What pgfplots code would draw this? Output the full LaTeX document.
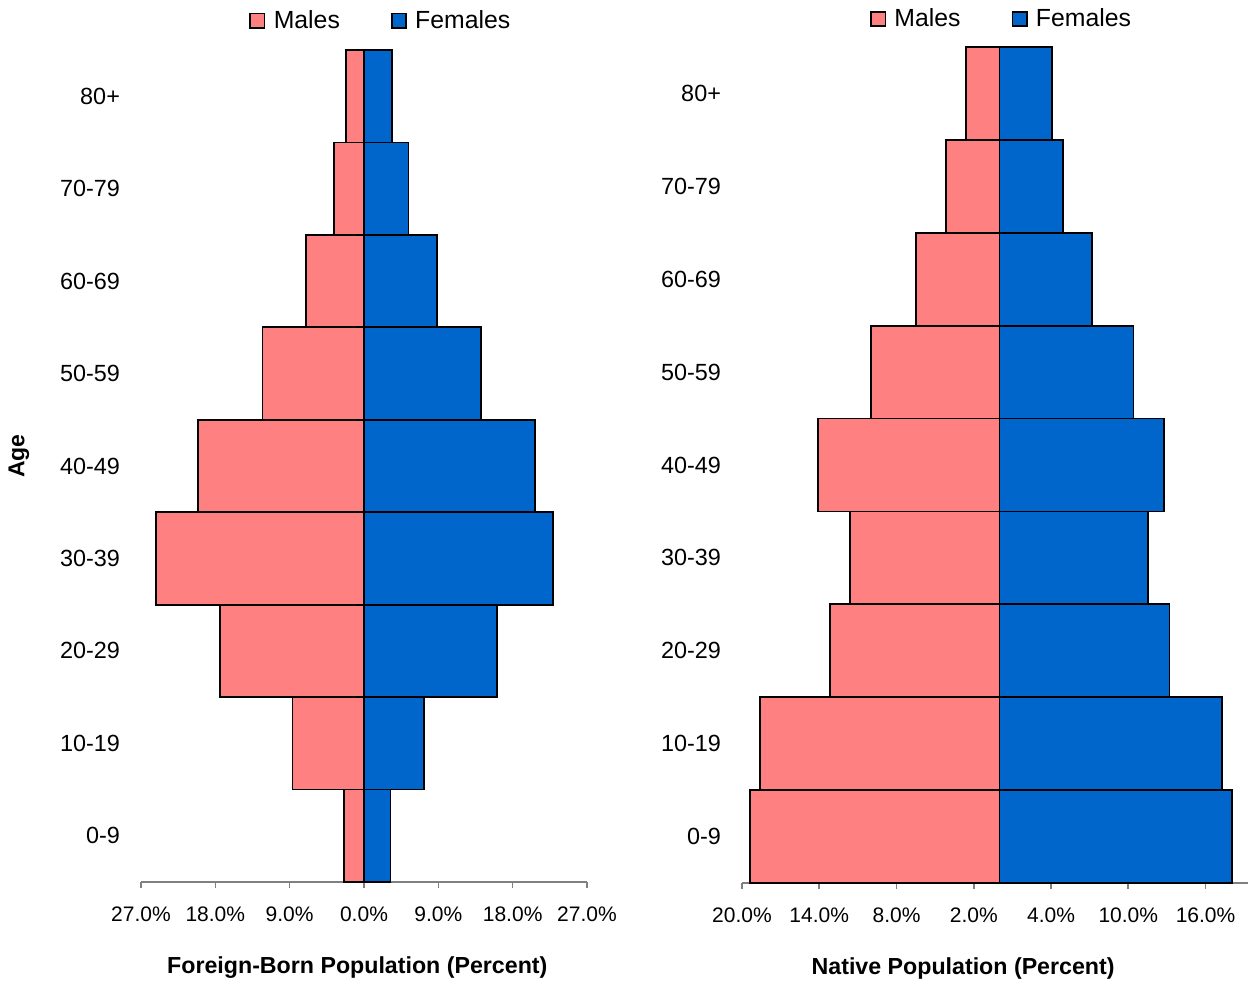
\documentclass[border=0pt]{standalone}
\usepackage{pgfplots}
\pgfplotsset{compat=1.18}
\usepackage{pgfplotstable}
\usepackage{fontspec}
\setmainfont{Liberation Sans}
\definecolor{malec}{RGB}{255,128,128}
\definecolor{femc}{RGB}{0,102,204}
\definecolor{axc}{RGB}{128,128,128}

\pgfplotstableread{
y male female
0 -2.4 3.2
1 -8.65 7.3
2 -17.4 16.1
3 -25.2 22.9
4 -20.1 20.7
5 -12.3 14.15
6 -7.0 8.8
7 -3.6 5.4
8 -2.2 3.4
}\foreign

\pgfplotstableread{
y male female
0 -19.35 18.05
1 -18.6 17.3
2 -13.15 13.2
3 -11.6 11.55
4 -14.1 12.8
5 -10.0 10.4
6 -6.5 7.2
7 -4.13 4.9
8 -2.58 4.1
}\native

\pgfplotsset{
  pyr/.style={
    scale only axis,
    xbar, bar width=1, bar shift=0pt,
    ymin=-0.5, ymax=8.5,
    ytick={0,...,8},
    yticklabels={0-9,10-19,20-29,30-39,40-49,50-59,60-69,70-79,80+},
    axis lines*=left,
    y axis line style={draw=none},
    x axis line style={draw=axc, line width=0.8pt},
    ytick style={draw=none},
    xtick style={draw=axc, line width=0.8pt},
    xtick align=outside,
    major tick length=3pt,
    yticklabel style={font=\fontsize{11.7}{12}\selectfont, xshift=-4pt},
    xticklabel style={font=\fontsize{10.5}{11}\selectfont, yshift=-6pt},
    xlabel style={font=\bfseries\fontsize{11.6}{12}\selectfont, anchor=center},
    legend columns=2,
    legend cell align=left,
    legend style={draw=none, fill=none, font=\fontsize{12.4}{13}\selectfont, anchor=center,
      /tikz/every even column/.append style={column sep=24pt},
      nodes={inner sep=1.5pt}},
    legend image code/.code={\draw[#1, draw=black, line width=0.8pt] (0pt,-3.6pt) rectangle (7.2pt,3.6pt); \path (9.8pt,0pt);},
    clip=false,
  }
}

\begin{document}
\begin{tikzpicture}
\useasboundingbox (0,0) rectangle (624pt,492.5pt);
\begin{axis}[pyr,
  at={(70.5pt,51.5pt)}, anchor=south west,
  width=223pt, height=416pt,
  xmin=-27, xmax=27,
  xtick={-27,-18,-9,0,9,18,27},
  xticklabels={27.0\%,18.0\%,9.0\%,0.0\%,9.0\%,18.0\%,27.0\%},
  xlabel={Foreign-Born Population (Percent)},
  xlabel style={at={(axis description cs:0.485,-0.1034)}},
  ylabel={Age},
  ylabel style={font=\bfseries\fontsize{11.5}{12}\selectfont, at={(axis description cs:-0.2735,0.512)}, anchor=center},
  legend style={at={(axis description cs:0.539,1.035)}},
]
\addplot[fill=malec, draw=black, line width=0.9pt] table[x=male, y=y] {\foreign};
\addplot[fill=femc, draw=black, line width=0.9pt] table[x=female, y=y] {\foreign};
\legend{Males, Females}
\end{axis}

\begin{axis}[pyr,
  at={(371pt,51pt)}, anchor=south west,
  width=253pt, height=418pt,
  xmin=-20, xmax=19.3,
  xtick={-20,-14,-8,-2,4,10,16},
  xticklabels={20.0\%,14.0\%,8.0\%,2.0\%,4.0\%,10.0\%,16.0\%},
  xlabel={Native Population (Percent)},
  xlabel style={at={(axis description cs:0.437,-0.1017)}},
  legend style={at={(axis description cs:0.514,1.0335)}},
]
\addplot[fill=malec, draw=black, line width=0.9pt] table[x=male, y=y] {\native};
\addplot[fill=femc, draw=black, line width=0.9pt] table[x=female, y=y] {\native};
\legend{Males, Females}
\end{axis}
\end{tikzpicture}
\end{document}
